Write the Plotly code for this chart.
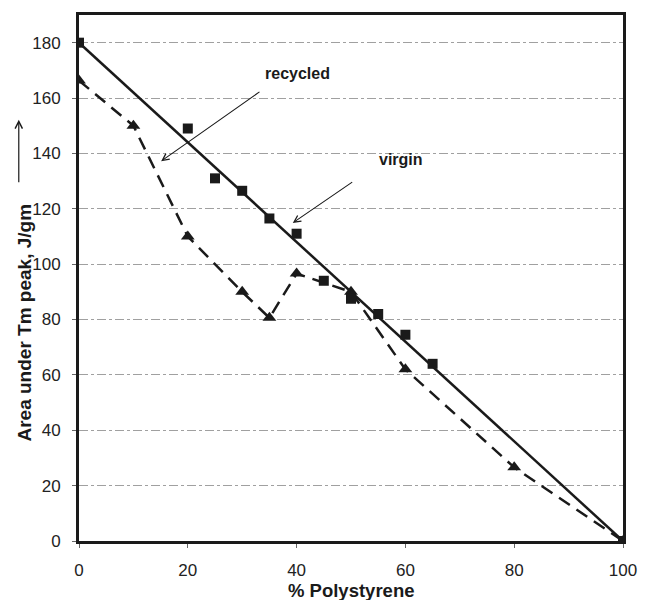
import plotly.graph_objects as go

# Data
virgin_x = [0, 20, 25, 30, 35, 40, 45, 50, 55, 60, 65, 100]
virgin_y = [180, 149, 131, 126.5, 116.5, 111, 94, 87.5, 82, 74.5, 64, 0]
virgin_line_x = [0, 100]
virgin_line_y = [180, 0]
recycled_x = [0, 10, 20, 30, 35, 40, 50, 60, 80, 100]
recycled_y = [166.3, 150, 110, 90, 80.6, 96.6, 90, 62, 26.6, 0]
x_ticks = [0, 20, 40, 60, 80, 100]
y_ticks = [0, 20, 40, 60, 80, 100, 120, 140, 160, 180]

FONT = "Liberation Sans, Arial, sans-serif"
INK = "#1a1a1a"

fig = go.Figure()
fig.add_trace(go.Scatter(x=recycled_x, y=recycled_y, mode="lines+markers",
                         line=dict(color=INK, width=2.5, dash="13px,8px"),
                         marker=dict(symbol="triangle-up", size=12, color=INK),
                         showlegend=False, hoverinfo="skip"))
fig.add_trace(go.Scatter(x=virgin_line_x, y=virgin_line_y, mode="lines",
                         line=dict(color=INK, width=2.5),
                         showlegend=False, hoverinfo="skip"))
fig.add_trace(go.Scatter(x=virgin_x, y=virgin_y, mode="markers",
                         marker=dict(symbol="square", size=10, color=INK),
                         showlegend=False, hoverinfo="skip"))

axis_common = dict(showline=True, mirror=True, linewidth=3, linecolor=INK,
                   showgrid=False, zeroline=False, ticks="outside", ticklen=4,
                   tickcolor="#666", tickfont=dict(family=FONT, size=17, color="#222"))
fig.update_xaxes(range=[0, 100], tickvals=x_ticks, ticklabelstandoff=8, **axis_common)
fig.update_yaxes(range=[0, 190], tickvals=y_ticks, ticklabelstandoff=8,
                 **{**axis_common, "showgrid": True, "gridcolor": "#a0a0a0",
                    "gridwidth": 1, "griddash": "dashdot"})

annotations = [
    dict(text="<b>% Polystyrene</b>", xref="paper", yref="paper", x=0.5, y=-0.0947,
         showarrow=False, font=dict(family=FONT, size=18.5, color=INK),
         xanchor="center", yanchor="middle"),
    dict(text="<b>Area under Tm peak, J/gm</b>", xref="paper", yref="paper",
         x=-0.0998, y=0.4148, textangle=-90, showarrow=False,
         font=dict(family=FONT, size=19, color=INK), xanchor="center", yanchor="middle"),
    dict(text="", xref="paper", yref="paper", x=-0.1107, y=0.801,
         ax=0, ay=64, showarrow=True, arrowhead=5, arrowsize=1.2, arrowwidth=1.2,
         arrowcolor=INK),
    dict(text="<b>recycled</b>", x=40.1, y=168.8, showarrow=False,
         font=dict(family=FONT, size=16, color=INK)),
    dict(text="<b>virgin</b>", x=59.2, y=137.9, showarrow=False,
         font=dict(family=FONT, size=16, color=INK)),
    dict(text="", x=15.1, y=137.2, axref="x", ayref="y", ax=33.45, ay=162.6,
         showarrow=True, arrowhead=5, arrowsize=1.2, arrowwidth=1.1, arrowcolor=INK),
    dict(text="", x=39.3, y=114.9, axref="x", ayref="y", ax=50.5, ay=130,
         showarrow=True, arrowhead=5, arrowsize=1.2, arrowwidth=1.1, arrowcolor=INK),
]
fig.update_layout(width=649, height=600, margin=dict(l=79, r=19, t=13, b=59),
                  paper_bgcolor="white", plot_bgcolor="white",
                  hovermode=False, annotations=annotations)
fig.write_html("out.html", config={"displayModeBar": False, "staticPlot": True},
               post_script="document.body.style.margin='0';document.body.style.overflow='hidden';")
